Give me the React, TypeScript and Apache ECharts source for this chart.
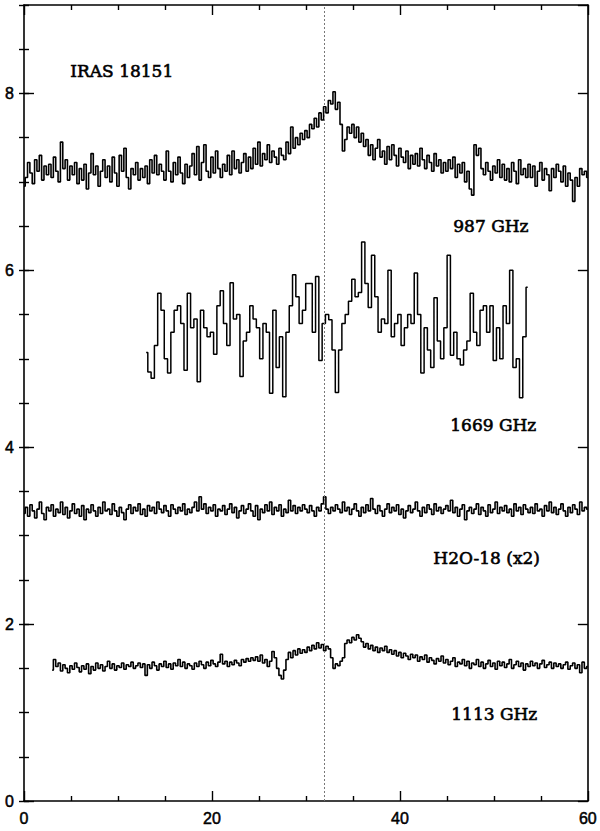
import React, { useEffect, useRef } from "react";
import * as echarts from "echarts";

// Velocity axis (km/s) channel grids
const STEP_WIDE = 0.25;
const START_987 = 0;
const START_H2O18 = 0;
const START_1113 = 3;
const START_1669 = 13;
const STEP_1669 = 0.35;

const xTicks = [0, 20, 40, 60];
const yTicks = [0, 2, 4, 6, 8];

const spec987: number[] = [
  6.95, 7.05, 7.22, 7.10, 6.98, 7.25, 7.12, 7.30, 7.02, 7.18, 7.08, 7.20,
  7.05, 7.28, 7.12, 7.00, 7.45, 7.15, 7.25, 7.02, 7.18, 7.08, 7.22, 6.98,
  7.15, 7.02, 7.20, 6.92, 7.10, 7.32, 7.08, 7.18, 6.95, 7.12, 7.25, 7.05,
  7.18, 7.00, 7.28, 7.10, 6.95, 7.30, 7.12, 7.38, 7.05, 6.92, 7.15, 7.08,
  7.22, 7.02, 7.15, 7.05, 7.18, 6.98, 7.25, 7.10, 7.30, 7.08, 7.20, 7.12,
  7.02, 7.35, 7.12, 7.00, 7.22, 7.08, 7.28, 7.10, 6.98, 7.20, 7.05, 7.18,
  7.32, 7.08, 7.40, 7.02, 7.22, 7.42, 7.12, 7.05, 7.28, 7.10, 7.35, 7.15,
  7.05, 7.20, 7.12, 7.30, 7.08, 7.35, 7.15, 7.25, 7.10, 7.22, 7.32, 7.12,
  7.28, 7.15, 7.38, 7.20, 7.45, 7.18, 7.32, 7.25, 7.42, 7.22, 7.35, 7.28,
  7.20, 7.38, 7.30, 7.25, 7.45, 7.32, 7.62, 7.38, 7.50, 7.42, 7.55, 7.48,
  7.58, 7.50, 7.65, 7.60, 7.72, 7.62, 7.78, 7.70, 7.85, 7.78, 7.92, 7.88,
  8.02, 7.82, 7.90, 7.65, 7.35, 7.48, 7.62, 7.55, 7.65, 7.50, 7.62, 7.45,
  7.55, 7.40, 7.48, 7.30, 7.42, 7.25, 7.38, 7.48, 7.28, 7.35, 7.20, 7.40,
  7.25, 7.42, 7.30, 7.18, 7.38, 7.28, 7.22, 7.35, 7.15, 7.30, 7.20, 7.32,
  7.18, 7.38, 7.25, 7.15, 7.30, 7.22, 7.12, 7.32, 7.18, 7.25, 7.10, 7.22,
  7.12, 7.25, 7.15, 7.28, 7.05, 7.20, 7.10, 7.22, 7.00, 7.12, 6.92, 6.85,
  7.42, 7.30, 7.38, 7.15, 7.08, 7.22, 7.12, 7.02, 7.18, 7.10, 7.25, 7.05,
  7.20, 7.02, 7.15, 7.00, 7.22, 7.12, 6.98, 7.25, 7.08, 7.15, 7.05, 7.20,
  7.05, 7.18, 6.95, 7.12, 7.22, 7.02, 7.15, 7.08, 6.90, 7.15, 7.05, 7.20,
  7.12, 7.00, 7.18, 6.95, 7.10, 7.02, 6.78, 7.05, 6.95, 7.15, 7.08, 7.12,
  7.05,
];

const spec1669: number[] = [
  5.07, 4.85, 4.78, 5.15, 5.74, 5.55, 5.00, 4.84, 5.30, 5.55,
  5.60, 5.40, 4.87, 5.74, 5.35, 5.45, 4.74, 5.55, 5.35, 5.25,
  5.30, 5.05, 5.60, 5.77, 5.40, 5.15, 5.86, 5.45, 5.50, 4.80,
  5.20, 5.30, 5.60, 5.45, 5.35, 5.00, 5.40, 5.30, 4.61, 5.55,
  4.90, 5.25, 4.57, 5.30, 5.60, 5.95, 5.70, 5.40, 5.55, 5.85,
  5.85, 5.30, 5.93, 4.98, 5.40, 5.50, 5.44, 5.10, 4.62, 5.10,
  5.40, 5.50, 5.65, 5.90, 5.70, 5.75, 6.32, 5.85, 5.58, 6.17,
  5.70, 5.30, 5.45, 5.40, 6.00, 5.25, 5.40, 5.50, 5.15, 5.35,
  5.50, 5.40, 5.97, 5.50, 4.84, 5.35, 5.10, 4.90, 5.69, 5.20,
  5.00, 5.35, 6.17, 5.04, 5.30, 5.00, 4.93, 5.10, 5.20, 5.74,
  5.30, 5.15, 5.55, 5.60, 5.30, 5.60, 4.98, 5.35, 5.00, 5.60,
  5.40, 6.00, 4.90, 5.00, 4.56, 5.25, 5.81,
];

const specH2O18: number[] = [
  3.25, 3.32, 3.22, 3.35, 3.28, 3.20, 3.30, 3.38, 3.25, 3.18, 3.32, 3.28,
  3.35, 3.22, 3.30, 3.26, 3.38, 3.24, 3.32, 3.20, 3.28, 3.36, 3.25, 3.30,
  3.22, 3.34, 3.18, 3.30, 3.26, 3.35, 3.28, 3.22, 3.32, 3.25, 3.38, 3.28,
  3.30, 3.24, 3.36, 3.28, 3.22, 3.32, 3.26, 3.18, 3.30, 3.35, 3.25, 3.32,
  3.28, 3.36, 3.24, 3.30, 3.22, 3.34, 3.28, 3.32, 3.25, 3.38, 3.30, 3.26,
  3.34, 3.28, 3.22, 3.35, 3.30, 3.25, 3.32, 3.28, 3.36, 3.24, 3.30, 3.26,
  3.32, 3.38, 3.28, 3.44, 3.30, 3.36, 3.25, 3.32, 3.28, 3.35, 3.22, 3.30,
  3.28, 3.34, 3.24, 3.30, 3.36, 3.26, 3.32, 3.20, 3.28, 3.34, 3.25, 3.30,
  3.36, 3.28, 3.22, 3.34, 3.18, 3.30, 3.26, 3.35, 3.28, 3.38, 3.24, 3.32,
  3.28, 3.35, 3.22, 3.30, 3.26, 3.40, 3.28, 3.34, 3.25, 3.32, 3.28, 3.35,
  3.30, 3.26, 3.34, 3.28, 3.22, 3.32, 3.28, 3.36, 3.44, 3.30, 3.25, 3.32,
  3.28, 3.35, 3.30, 3.26, 3.38, 3.28, 3.32, 3.24, 3.30, 3.36, 3.28, 3.22,
  3.32, 3.26, 3.35, 3.28, 3.42, 3.30, 3.25, 3.34, 3.28, 3.22, 3.30, 3.36,
  3.26, 3.32, 3.28, 3.35, 3.24, 3.30, 3.20, 3.28, 3.34, 3.26, 3.30, 3.38,
  3.28, 3.22, 3.32, 3.26, 3.35, 3.30, 3.24, 3.36, 3.28, 3.32, 3.25, 3.30,
  3.34, 3.28, 3.40, 3.26, 3.32, 3.22, 3.30, 3.35, 3.18, 3.28, 3.32, 3.25,
  3.30, 3.36, 3.24, 3.32, 3.28, 3.22, 3.35, 3.26, 3.30, 3.38, 3.25, 3.32,
  3.28, 3.34, 3.26, 3.30, 3.22, 3.36, 3.28, 3.32, 3.24, 3.35, 3.30, 3.26,
  3.32, 3.25, 3.36, 3.28, 3.30, 3.22, 3.34, 3.28, 3.38, 3.26, 3.32, 3.24,
  3.30, 3.36, 3.28, 3.22, 3.32, 3.26, 3.35, 3.30, 3.24, 3.38, 3.28, 3.32,
  3.30,
];

const spec1113: number[] = [
  1.48, 1.60, 1.52, 1.56, 1.47, 1.54, 1.50, 1.45, 1.53, 1.49, 1.56, 1.51,
  1.46, 1.53, 1.49, 1.55, 1.44, 1.52, 1.48, 1.56, 1.50, 1.54, 1.47, 1.52,
  1.58, 1.50, 1.55, 1.48, 1.53, 1.51, 1.56, 1.49, 1.54, 1.52, 1.57, 1.50,
  1.53, 1.56, 1.51, 1.55, 1.42, 1.54, 1.50, 1.57, 1.53, 1.48, 1.55, 1.52,
  1.58, 1.51, 1.55, 1.49, 1.56, 1.53, 1.60, 1.52, 1.57, 1.50, 1.55, 1.53,
  1.49, 1.56, 1.52, 1.58, 1.54, 1.50, 1.57, 1.53, 1.59, 1.55, 1.52, 1.57,
  1.66, 1.55, 1.58, 1.52, 1.57, 1.54, 1.59, 1.56, 1.53, 1.60, 1.57, 1.61,
  1.58, 1.62, 1.59, 1.63, 1.58, 1.65, 1.56, 1.60, 1.52, 1.58, 1.69, 1.62,
  1.50, 1.42, 1.38, 1.48, 1.60, 1.68, 1.62, 1.70, 1.65, 1.72, 1.67, 1.71,
  1.68, 1.74, 1.70, 1.76, 1.72, 1.79, 1.73, 1.77, 1.70, 1.75, 1.72, 1.62,
  1.50, 1.55, 1.53, 1.58, 1.62, 1.78, 1.82, 1.79, 1.85, 1.82, 1.88, 1.84,
  1.80, 1.74, 1.78, 1.72, 1.76, 1.70, 1.74, 1.68, 1.73, 1.70, 1.75, 1.68,
  1.71, 1.66, 1.70, 1.64, 1.68, 1.62, 1.67, 1.64, 1.60, 1.66, 1.62, 1.65,
  1.58, 1.63, 1.60, 1.65, 1.57, 1.62, 1.59, 1.55, 1.61, 1.58, 1.64, 1.56,
  1.60, 1.54, 1.58, 1.62, 1.52, 1.57, 1.55, 1.60, 1.53, 1.58, 1.50, 1.56,
  1.54, 1.60, 1.52, 1.57, 1.50, 1.55, 1.59, 1.52, 1.56, 1.49, 1.58, 1.53,
  1.57, 1.51, 1.55, 1.60, 1.50, 1.54, 1.58, 1.52, 1.56, 1.48, 1.55, 1.52,
  1.58, 1.53, 1.56, 1.50, 1.55, 1.59, 1.51, 1.54, 1.57, 1.50, 1.56, 1.52,
  1.55, 1.50, 1.54, 1.57, 1.49, 1.53, 1.56, 1.50, 1.54, 1.45, 1.57, 1.50,
  1.52,
];

const SYSTEMIC_VELOCITY = 32;

const annotations = [
  { text: "IRAS 18151", x: 70, y: 72 },
  { text: "987 GHz", x: 453, y: 227 },
  { text: "1669 GHz", x: 450, y: 426 },
  { text: "H2O-18 (x2)", x: 433, y: 559 },
  { text: "1113 GHz", x: 451, y: 715 },
];

function toPairs(values: number[], start: number, step: number): number[][] {
  return values.map((v, i) => [+(start + i * step).toFixed(3), v]);
}

const AXIS_COLOR = "#000";

export default function App() {
  const ref = useRef<HTMLDivElement>(null);

  useEffect(() => {
    if (!ref.current) return;
    const chart = echarts.init(ref.current, null, { renderer: "svg" });

    const lineSeries = (name: string, data: number[][], width: number, extra: any = {}) => ({
      name,
      type: "line",
      xAxisIndex: 0,
      yAxisIndex: 0,
      step: "middle",
      showSymbol: false,
      symbol: "none",
      silent: true,
      lineStyle: { color: "#000", width },
      data,
      ...extra,
    });

    const baseX = {
      type: "value",
      min: 0,
      max: 60,
      interval: 20,
      splitLine: { show: false },
      axisLine: { show: true, onZero: false, lineStyle: { color: AXIS_COLOR, width: 1.6 } },
      axisTick: { show: true, inside: true, length: 10, lineStyle: { color: AXIS_COLOR, width: 1.4 } },
      minorTick: { show: true, splitNumber: 4, length: 5, lineStyle: { color: AXIS_COLOR, width: 1.4 } },
      minorSplitLine: { show: false },
    };

    const baseYMajor = {
      type: "value",
      min: 0,
      max: 9,
      interval: 2,
      splitLine: { show: false },
      axisLine: { show: true, onZero: false, lineStyle: { color: AXIS_COLOR, width: 1.6 } },
      axisTick: { show: true, inside: true, length: 10, lineStyle: { color: AXIS_COLOR, width: 1.4 } },
    };
    const baseYMinor = {
      type: "value",
      min: 0,
      max: 9,
      interval: 0.5,
      splitLine: { show: false },
      axisLabel: { show: false },
      axisLine: { show: false },
      axisTick: { show: true, inside: true, length: 5, lineStyle: { color: AXIS_COLOR, width: 1.4 } },
    };

    const labelStyle = {
      color: "#000",
      fontFamily: "Liberation Sans",
      fontSize: 16,
      textBorderColor: "#000",
      textBorderWidth: 0.5,
    };

    chart.setOption({
      animation: false,
      backgroundColor: "#fff",
      grid: { left: 24, right: 12, top: 5, bottom: 30, containLabel: false },
      xAxis: [
        {
          ...baseX,
          position: "bottom",
          axisLabel: {
            ...labelStyle,
            margin: 9,
            formatter: (v: number) => (xTicks.includes(v) ? String(v) : ""),
          },
        },
        { ...baseX, position: "top", axisLabel: { show: false } },
      ],
      yAxis: [
        {
          ...baseYMajor,
          position: "left",
          axisLabel: {
            ...labelStyle,
            margin: 10,
            showMaxLabel: false,
            formatter: (v: number) => (yTicks.includes(v) ? String(v) : ""),
          },
        },
        { ...baseYMinor, position: "left" },
        { ...baseYMajor, position: "right", axisLabel: { show: false } },
        { ...baseYMinor, position: "right" },
      ],
      series: [
        lineSeries("987 GHz", toPairs(spec987, START_987, STEP_WIDE), 1.6, {
          markLine: {
            silent: true,
            symbol: "none",
            label: { show: false },
            lineStyle: { type: [2, 2], color: "#777", width: 1 },
            data: [{ xAxis: SYSTEMIC_VELOCITY }],
          },
        }),
        lineSeries("1669 GHz", toPairs(spec1669, START_1669, STEP_1669), 1.5),
        lineSeries("H2O-18 (x2)", toPairs(specH2O18, START_H2O18, STEP_WIDE), 1.6),
        lineSeries("1113 GHz", toPairs(spec1113, START_1113, STEP_WIDE), 1.6),
      ],
      graphic: annotations.map((a) => ({
        type: "text",
        left: a.x,
        top: a.y - 10,
        silent: true,
        style: {
          text: a.text,
          fill: "#000",
          stroke: "#000",
          lineWidth: 0.6,
          font: "17px 'DejaVu Serif'",
        },
      })),
    });

    return () => {
      chart.dispose();
    };
  }, []);

  return (
    <div
      ref={ref}
      style={{ position: "absolute", left: 0, top: 0, width: 600, height: 831, background: "#fff" }}
    />
  );
}
